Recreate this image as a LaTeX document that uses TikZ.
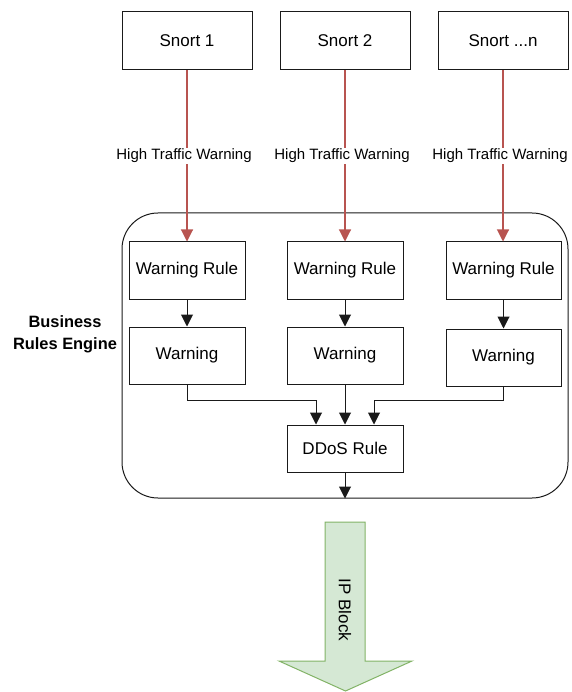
\documentclass[tikz,border=0pt]{standalone}
\usepackage{fontspec}
\setmainfont{Liberation Sans}
\usetikzlibrary{arrows.meta}
\definecolor{redline}{HTML}{B85450}
\definecolor{greenfill}{HTML}{D5E8D4}
\definecolor{greenline}{HTML}{82B366}
\definecolor{darkline}{HTML}{1A1A1A}
\begin{document}
\begin{tikzpicture}[x=1pt,y=-1pt,
  box/.style={draw=darkline,line width=1pt,fill=white,inner sep=0pt,
    font=\fontsize{17}{20}\selectfont},
  srcbox/.style={box,minimum width=130pt,minimum height=58pt},
  rulebox/.style={box,minimum width=116pt,minimum height=57pt},
  redarrow/.style={draw=redline,line width=1.1pt,-{Triangle[length=12pt,width=12pt]},color=redline},
  blackarrow/.style={draw=darkline,line width=1pt,-{Triangle[length=12pt,width=12pt]}},
  edgelabel/.style={fill=white,text=black,inner sep=1pt,xshift=-3pt,font=\fontsize{15}{18}\selectfont},
  container/.style={draw=darkline,line width=1pt,rounded corners=36pt,inner sep=0pt,
    minimum width=446pt,minimum height=285pt},
  iparrow/.style={draw=greenline,fill=greenfill,line width=1pt}
]
\useasboundingbox (0,0) rectangle (571,692);

% container
\node[container] (cont) at (345,355.5) {};
\node[align=center,font=\bfseries\fontsize{16.4}{22}\selectfont] (bre) at (65,334) {Business\\Rules Engine};

% sources
\node[srcbox] (s1) at (187,41) {Snort 1};
\node[srcbox] (s2) at (345,41) {Snort 2};
\node[srcbox] (s3) at (503,41) {Snort ...n};

% warning rules
\node[rulebox] (wr1) at (187,270.5) {Warning Rule};
\node[rulebox] (wr2) at (345,270.5) {Warning Rule};
\node[rulebox,minimum width=115pt] (wr3) at (503.5,270.5) {Warning Rule};

% warnings
\node[rulebox] (w1) at (187,355.5) {Warning};
\node[rulebox] (w2) at (345,355.5) {Warning};
\node[rulebox,minimum width=115pt] (w3) at (503.5,357.5) {Warning};

% DDoS rule
\node[rulebox,minimum height=47pt] (dd) at (345,448.5) {DDoS Rule};

% red arrows with labels
\draw[redarrow] (s1) -- node[edgelabel] {High Traffic Warning} (wr1);
\draw[redarrow] (s2) -- node[edgelabel] {High Traffic Warning} (wr2);
\draw[redarrow] (s3.south) -- node[edgelabel] {High Traffic Warning} (s3.south |- wr3.north);

% black arrows
\draw[blackarrow] (wr1) -- (w1);
\draw[blackarrow] (wr2) -- (w2);
\draw[blackarrow] (wr3) -- (w3);
\draw[blackarrow] (w1.south) -- ++(0,16) -| ([xshift=-29pt]dd.north);
\draw[blackarrow] (w2) -- (dd);
\draw[blackarrow] (w3.south) -- ++(0,14) -| ([xshift=29pt]dd.north);
\draw[blackarrow] (dd.south) -- (cont.south);

% IP block arrow
\draw[iparrow] (325,522) -- (365,522) -- (365,661) -- (412,661) -- (345.5,691) -- (279,661) -- (325,661) -- cycle;
\node[rotate=-90,font=\fontsize{17}{20}\selectfont] (ip) at (345,610) {IP Block};
\end{tikzpicture}
\end{document}
